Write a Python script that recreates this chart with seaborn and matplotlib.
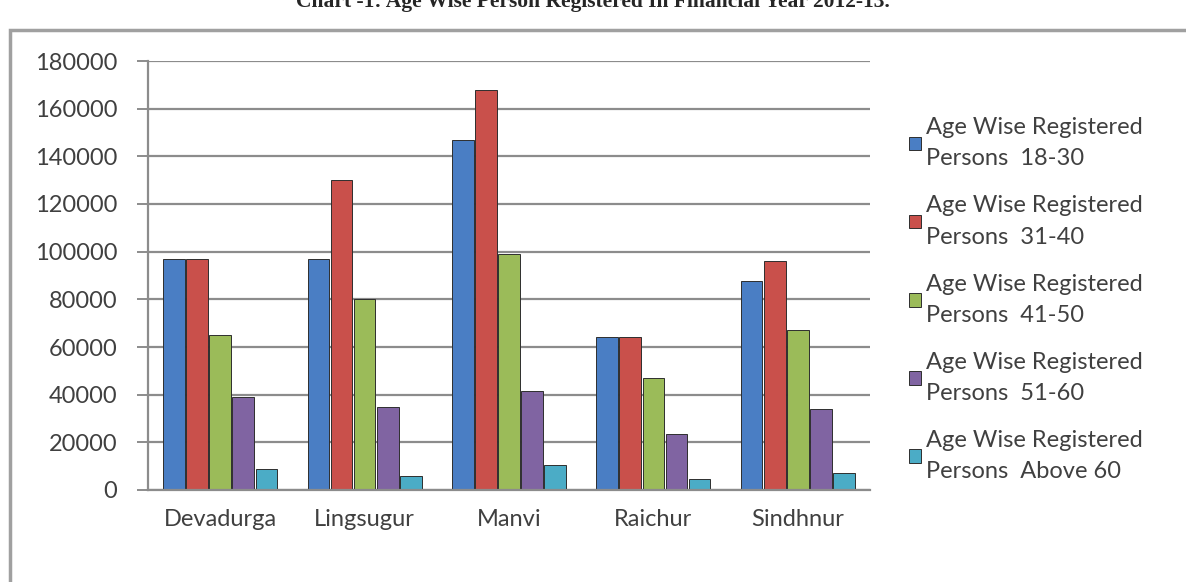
import numpy as np
import pandas as pd
import matplotlib
matplotlib.use("Agg")
import matplotlib.pyplot as plt
from matplotlib.patches import Rectangle
import seaborn as sns

# data
talukas = ["Devadurga", "Lingsugur", "Manvi", "Raichur", "Sindhnur"]
age_groups = ["Age Wise Registered\nPersons  18-30",
              "Age Wise Registered\nPersons  31-40",
              "Age Wise Registered\nPersons  41-50",
              "Age Wise Registered\nPersons  51-60",
              "Age Wise Registered\nPersons  Above 60"]
age_18_30 = [97000, 97000, 147000, 64000, 87500]
age_31_40 = [97000, 130000, 168000, 64000, 96000]
age_41_50 = [65000, 80000, 99000, 47000, 67000]
age_51_60 = [39000, 35000, 41500, 23500, 34000]
age_60_up = [9000, 6000, 10500, 4500, 7000]

colors = ["#4A7EC4", "#C9504B", "#9BBB59", "#8064A2", "#4BACC6"]

####################################################################################

series = [age_18_30, age_31_40, age_41_50, age_51_60, age_60_up]
rows = []
for grp, vals in zip(age_groups, series):
    for t, v in zip(talukas, vals):
        rows.append({"Taluka": t, "Group": grp, "Persons": v})
df = pd.DataFrame(rows)

sns.set_style("white")
plt.rcParams["font.family"] = ["Lato", "DejaVu Sans"]

fig = plt.figure(figsize=(11.86, 5.82), dpi=100)
fig.patch.set_facecolor("white")

# chart area border
fig.patches.append(Rectangle((10 / 1186, -0.01), 1.2, (582 - 30) / 582 + 0.01,
                             transform=fig.transFigure, fill=False,
                             edgecolor="#a0a0a0", linewidth=2.5))

# title sits partly above the top edge, as in the source
fig.text(0.5, 1 - 7 / 582, "Chart -1: Age Wise Person Registered In Financial Year 2012-13.",
         ha="center", va="baseline", fontsize=15.5, fontweight="bold",
         family="Liberation Serif")

ax = fig.add_axes([148 / 1186, 92 / 582, (870 - 148) / 1186, 429 / 582])
sns.barplot(data=df, x="Taluka", y="Persons", hue="Group", palette=colors,
            width=0.8, gap=0.06, edgecolor="#2e2e2e", linewidth=0.7,
            saturation=1, ax=ax)

ax.set_ylim(0, 180000)
ax.set_yticks(np.arange(0, 180001, 20000))
ax.set_xlim(-0.5, 4.5)
ax.set_xlabel("")
ax.set_ylabel("")
ax.yaxis.grid(True, color="#8c8c8c", linewidth=1.6)
ax.set_axisbelow(True)
for s in ["top", "right"]:
    ax.spines[s].set_visible(False)
for s in ["left", "bottom"]:
    ax.spines[s].set_color("#8c8c8c")
    ax.spines[s].set_linewidth(1.6)

ax.tick_params(axis="y", labelsize=17, colors="#8c8c8c", labelcolor="#404040",
               left=True, length=8, width=1.4, pad=14)
ax.tick_params(axis="x", labelsize=17, labelcolor="#404040", length=0, pad=14)
ax.set_xticks(np.arange(0.5, 4.5, 1), minor=True)
ax.tick_params(axis="x", which="minor", length=7, width=1.4, color="#8c8c8c")

leg = ax.legend(loc="upper left", bbox_to_anchor=(888 / 1186, 1 - 96 / 582),
                bbox_transform=fig.transFigure, frameon=False, fontsize=17,
                handlelength=0.5, handleheight=0.5, handletextpad=0.2,
                labelspacing=1.1)
for t in leg.get_texts():
    t.set_linespacing(1.6)
    t.set_color("#404040")

fig.savefig("out.png", dpi=100)
